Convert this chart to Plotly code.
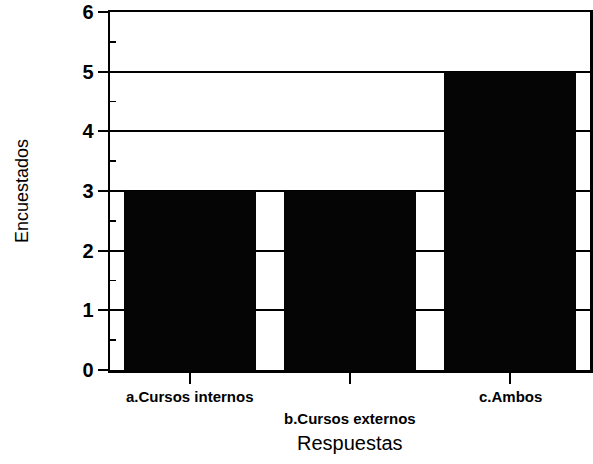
import plotly.graph_objects as go

categories = ["a.Cursos internos", "b.Cursos externos", "c.Ambos"]
values = [3, 3, 5]
label_rows = [0, 1, 0]
y_ticks = [0, 1, 2, 3, 4, 5, 6]

FONT = "Arial, Liberation Sans, sans-serif"

fig = go.Figure()
fig.add_trace(go.Bar(
    x=list(range(len(categories))), y=values,
    width=0.83,
    marker=dict(color="#050505", line=dict(width=0)),
))

annotations = []
for i, (c, r) in enumerate(zip(categories, label_rows)):
    annotations.append(dict(
        x=i, xref="x", y=0, yref="paper", yshift=-26 - 22 * r,
        text="<b>" + c + "</b>", showarrow=False,
        font=dict(family=FONT, size=15, color="black"),
        xanchor="center", yanchor="middle",
    ))

annotations.append(dict(
    x=0.5, xref="paper", y=0, yref="paper", yshift=-73,
    text="Respuestas", showarrow=False,
    font=dict(family=FONT, size=20, color="black"),
    xanchor="center", yanchor="middle",
))
annotations.append(dict(
    x=0, xref="paper", xshift=-88, y=0.5, yref="paper",
    text="Encuestados", showarrow=False, textangle=-90,
    font=dict(family=FONT, size=18, color="black"),
    xanchor="center", yanchor="middle",
))

fig.update_layout(
    width=593, height=464,
    margin=dict(l=110, r=3, t=12, b=94, autoexpand=False),
    paper_bgcolor="white", plot_bgcolor="white",
    showlegend=False,
    bargap=0,
    annotations=annotations,
    xaxis=dict(
        range=[-0.5, 2.5],
        tickvals=list(range(len(categories))),
        showticklabels=False,
        ticks="outside", ticklen=11, tickwidth=1.5, tickcolor="black",
        showline=True, linecolor="black", linewidth=2.5, mirror=True,
        showgrid=False, zeroline=False, fixedrange=True,
    ),
    yaxis=dict(
        range=[0, 6],
        tickvals=y_ticks,
        ticktext=["<b>%d</b>" % v for v in y_ticks],
        tickfont=dict(family=FONT, size=20, color="black"),
        ticklabeloverflow="allow",
        ticks="outside", ticklen=10, tickwidth=2, tickcolor="black",
        showline=True, linecolor="black", linewidth=2.5, mirror=True,
        showgrid=True, gridcolor="black", gridwidth=2,
        zeroline=False, fixedrange=True, automargin=False,
        minor=dict(tickvals=[0.5, 1.5, 2.5, 3.5, 4.5, 5.5], ticks="inside",
                   ticklen=6, tickwidth=1.5, tickcolor="black", showgrid=False),
    ),
)

fig.write_html(
    "out.html",
    config={"displayModeBar": False, "staticPlot": True},
    post_script="document.body.style.margin='0';document.body.style.padding='0';",
)
